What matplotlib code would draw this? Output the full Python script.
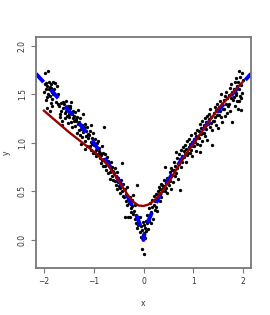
import numpy as np
import matplotlib
matplotlib.use("Agg")
import matplotlib.pyplot as plt

# scatter points (x from -2 to 2)
px = [
    -1.99, -1.97, -1.96, -1.95, -1.94, -1.93, -1.92, -1.91, -1.93, -1.98, -1.96, -1.90,
    -1.89, -1.88, -1.87, -1.86, -1.85, -1.84, -1.83, -1.82, -1.81, -1.88, -1.85, -1.83,
    -1.79, -1.77, -1.76, -1.74, -1.72, -1.71,
    -1.69, -1.68, -1.66, -1.65, -1.64, -1.62, -1.61, -1.67, -1.63,
    -1.59, -1.58, -1.57, -1.55, -1.54, -1.53, -1.52, -1.51, -1.56, -1.50,
    -1.49, -1.48, -1.46, -1.45, -1.44, -1.43, -1.42, -1.41, -1.47, -1.40,
    -1.39, -1.38, -1.37, -1.35, -1.34, -1.33, -1.32, -1.31, -1.36, -1.30,
    -1.29, -1.28, -1.27, -1.26, -1.25, -1.23, -1.22, -1.21, -1.24, -1.20,
    -1.19, -1.18, -1.17, -1.16, -1.15, -1.14, -1.13, -1.12, -1.11, -1.17,
    -1.09, -1.08, -1.07, -1.06, -1.05, -1.04, -1.03, -1.02, -1.01, -1.05,
    -0.99, -0.98, -0.97, -0.96, -0.95, -0.94, -0.93, -0.92, -0.91, -0.90,
    -0.89, -0.88, -0.87, -0.86, -0.85, -0.84, -0.83, -0.82, -0.81, -0.80,
    -0.79, -0.78, -0.77, -0.76, -0.75, -0.74, -0.73, -0.72, -0.71,
    -0.69, -0.68, -0.67, -0.66, -0.65, -0.64, -0.63, -0.62, -0.61,
    -0.59, -0.58, -0.57, -0.56, -0.55, -0.54, -0.53, -0.52, -0.51, -0.50,
    -0.49, -0.48, -0.47, -0.46, -0.45, -0.44, -0.43, -0.42, -0.41,
    -0.39, -0.38, -0.37, -0.36, -0.35, -0.34, -0.33, -0.32, -0.31,
    -0.29, -0.28, -0.27, -0.26, -0.25, -0.24, -0.23, -0.22, -0.21,
    -0.19, -0.18, -0.17, -0.16, -0.15, -0.14, -0.13, -0.12, -0.11,
    -0.09, -0.08, -0.07, -0.06, -0.05, -0.04, -0.03, -0.02, -0.01,
    0.00, 0.01, 0.02, 0.03, 0.04, 0.05, 0.06, 0.07, 0.08, 0.09,
    0.11, 0.12, 0.13, 0.14, 0.15, 0.16, 0.17, 0.18, 0.19,
    0.21, 0.22, 0.23, 0.24, 0.25, 0.26, 0.27, 0.28, 0.29,
    0.31, 0.32, 0.33, 0.34, 0.35, 0.36, 0.37, 0.38, 0.39,
    0.41, 0.42, 0.43, 0.44, 0.45, 0.46, 0.47, 0.48, 0.49,
    0.51, 0.52, 0.53, 0.54, 0.55, 0.56, 0.57, 0.58, 0.59,
    0.61, 0.62, 0.63, 0.64, 0.65, 0.66, 0.67, 0.68, 0.69,
    0.71, 0.72, 0.73, 0.74, 0.75, 0.76, 0.77, 0.78, 0.79,
    0.81, 0.82, 0.83, 0.84, 0.85, 0.86, 0.87, 0.88, 0.89,
    0.91, 0.92, 0.93, 0.94, 0.95, 0.96, 0.97, 0.98, 0.99,
    1.01, 1.02, 1.03, 1.04, 1.05, 1.06, 1.07, 1.08, 1.09,
    1.11, 1.12, 1.13, 1.14, 1.15, 1.16, 1.17, 1.18, 1.19, 1.13,
    1.21, 1.22, 1.23, 1.24, 1.25, 1.26, 1.27, 1.28, 1.29,
    1.31, 1.32, 1.33, 1.34, 1.35, 1.36, 1.37, 1.38, 1.39,
    1.41, 1.42, 1.43, 1.44, 1.45, 1.46, 1.47, 1.48, 1.49,
    1.51, 1.52, 1.53, 1.54, 1.55, 1.56, 1.57, 1.58, 1.59,
    1.61, 1.62, 1.63, 1.64, 1.65, 1.66, 1.67, 1.68, 1.69,
    1.71, 1.72, 1.73, 1.74, 1.75, 1.76, 1.77, 1.78, 1.79,
    1.81, 1.82, 1.83, 1.84, 1.85, 1.86, 1.87, 1.88, 1.89, 1.85,
    1.90, 1.91, 1.92, 1.93, 1.94, 1.95, 1.96, 1.97, 1.98, 1.99, 1.92, 1.96,
]
py = [
    1.52, 1.72, 1.55, 1.61, 1.47, 1.58, 1.74, 1.50, 1.36, 1.60, 1.44, 1.55,
    1.62, 1.48, 1.57, 1.41, 1.60, 1.52, 1.45, 1.63, 1.50, 1.33, 1.56, 1.38,
    1.55, 1.61, 1.42, 1.58, 1.50, 1.40,
    1.38, 1.27, 1.41, 1.33, 1.22, 1.36, 1.42, 1.30, 1.18,
    1.40, 1.31, 1.25, 1.43, 1.35, 1.28, 1.38, 1.20, 1.33, 1.30,
    1.26, 1.36, 1.21, 1.42, 1.30, 1.16, 1.33, 1.25, 1.38, 1.22,
    1.28, 1.17, 1.32, 1.22, 1.10, 1.27, 1.34, 1.19, 1.24, 1.13,
    1.21, 1.08, 1.25, 1.14, 0.99, 1.18, 1.30, 1.11, 1.06, 1.16,
    1.14, 1.02, 1.19, 1.07, 1.12, 0.97, 1.16, 1.05, 1.09, 0.94,
    1.08, 0.97, 1.12, 1.01, 0.93, 1.05, 0.99, 1.10, 0.90, 1.18,
    0.98, 0.90, 1.04, 0.93, 0.86, 1.00, 0.95, 0.88, 1.02, 0.92,
    0.95, 0.84, 0.90, 0.79, 0.87, 0.97, 0.82, 0.89, 0.76, 1.16,
    0.83, 0.76, 0.88, 0.80, 0.72, 0.85, 0.78, 0.69, 0.81,
    0.77, 0.70, 0.63, 0.80, 0.73, 0.66, 0.75, 0.62, 0.71,
    0.69, 0.61, 0.74, 0.57, 0.66, 0.52, 0.70, 0.60, 0.64, 0.56,
    0.60, 0.53, 0.48, 0.62, 0.56, 0.79, 0.50, 0.58, 0.45,
    0.44, 0.24, 0.52, 0.40, 0.47, 0.36, 0.55, 0.42, 0.24,
    0.38, 0.24, 0.44, 0.33, 0.29, 0.41, 0.35, 0.27, 0.46,
    0.30, 0.22, 0.36, 0.18, 0.26, 0.12, 0.57, 0.24, 0.15,
    0.18, 0.24, 0.08, 0.14, 0.03, 0.10, -0.09, 0.19, 0.05,
    -0.14, 0.07, 0.15, 0.02, 0.12, 0.20, 0.09, 0.17, 0.26, 0.11,
    0.20, 0.33, 0.25, 0.38, 0.17, 0.29, 0.34, 0.41, 0.22,
    0.36, 0.45, 0.31, 0.40, 0.47, 0.34, 0.42, 0.30, 0.50,
    0.47, 0.55, 0.40, 0.52, 0.58, 0.44, 0.50, 0.57, 0.53,
    0.56, 0.62, 0.50, 0.75, 0.59, 0.53, 0.64, 0.48, 0.60,
    0.64, 0.57, 0.70, 0.61, 0.74, 0.52, 0.67, 0.72, 0.60,
    0.72, 0.80, 0.66, 0.76, 0.91, 0.69, 0.74, 0.84, 0.63,
    0.78, 0.88, 0.51, 0.83, 0.93, 0.75, 0.86, 0.80, 0.96,
    0.92, 0.85, 0.98, 0.88, 0.80, 0.94, 1.02, 0.87, 0.90,
    0.96, 1.04, 0.90, 0.99, 1.08, 0.93, 1.01, 0.86, 0.97,
    1.04, 0.97, 1.10, 1.01, 0.92, 1.07, 1.13, 0.99, 1.06,
    1.12, 1.05, 1.19, 0.98, 1.09, 1.15, 1.02, 1.22, 1.10, 0.91,
    1.18, 1.10, 1.25, 1.07, 1.21, 1.14, 1.28, 1.03, 1.19,
    1.24, 1.30, 1.16, 1.35, 1.20, 1.27, 1.13, 0.98, 1.22,
    1.31, 1.22, 1.37, 1.26, 1.18, 1.34, 1.29, 1.40, 1.15,
    1.37, 1.29, 1.43, 1.33, 1.50, 1.26, 1.40, 1.21, 1.35,
    1.44, 1.35, 1.48, 1.28, 1.40, 1.52, 1.31, 1.46, 1.38,
    1.49, 1.40, 1.56, 1.33, 1.46, 1.60, 1.21, 1.52, 1.44,
    1.55, 1.47, 1.62, 1.38, 1.51, 1.67, 1.43, 1.58, 1.35, 1.49,
    1.62, 1.74, 1.55, 1.48, 1.68, 1.34, 1.59, 1.72, 1.51, 1.65, 1.43, 1.46,
]

# true curve (blue dashed), read at these x
true_x = [-2.16, -2.0, -1.8, -1.6, -1.4, -1.2, -1.0, -0.8, -0.6, -0.4, -0.3, -0.2, -0.1, -0.05, -0.02, 0.0,
          0.02, 0.05, 0.1, 0.2, 0.3, 0.4, 0.6, 0.8, 1.0, 1.2, 1.4, 1.6, 1.8, 2.0, 2.16]
true_y = [1.71, 1.62, 1.51, 1.39, 1.27, 1.14, 1.00, 0.855, 0.70, 0.53, 0.43, 0.32, 0.20, 0.12, 0.065, 0.0,
          0.065, 0.12, 0.20, 0.32, 0.43, 0.53, 0.70, 0.855, 1.00, 1.14, 1.27, 1.39, 1.51, 1.62, 1.71]

# fitted curve (dark red)
fit_x = [-2.0, -1.75, -1.5, -1.25, -1.0, -0.85, -0.7, -0.55, -0.4, -0.3, -0.2, -0.1, 0.0,
         0.1, 0.2, 0.3, 0.4, 0.55, 0.7, 0.85, 1.0, 1.25, 1.5, 1.75, 2.0]
fit_y = [1.33, 1.22, 1.11, 1.01, 0.91, 0.84, 0.76, 0.65, 0.53, 0.45, 0.39, 0.355, 0.35,
         0.365, 0.40, 0.45, 0.52, 0.63, 0.76, 0.88, 0.99, 1.17, 1.35, 1.49, 1.63]

xticks = [-2, -1, 0, 1, 2]
yticks = [0.0, 0.5, 1.0, 1.5, 2.0]

fig = plt.figure(figsize=(2.7, 3.15), dpi=100)
ax = fig.add_axes([36/270, 47/315, 215/270, 231/315])

ax.plot(px, py, 'o', color='black', markersize=2.4, markeredgewidth=0)
ax.plot(true_x, true_y, color='#0000ff', lw=2.8, dashes=(2.9, 2.7), dash_capstyle='butt')
ax.plot(fit_x, fit_y, color='#990000', lw=1.7)

ax.set_xlim(-2.16, 2.16)
ax.set_ylim(-0.288, 2.088)
ax.set_xticks(xticks)
ax.set_xticklabels(['\u22122', '\u22121', '0', '1', '2'])
ax.set_yticks(yticks)
ax.set_yticklabels(['0.0', '0.5', '1.0', '1.5', '2.0'], rotation=90, va='center')

for s in ax.spines.values():
    s.set_color('#777777')
    s.set_linewidth(1.3)
ax.tick_params(colors='#777777', labelcolor='#333333', labelsize=5.5, length=3.5, width=0.8, pad=3)

ax.set_xlabel('x', fontsize=5.5, color='#333333', labelpad=9)
ax.set_ylabel('y', fontsize=5.5, color='#333333', labelpad=5)

fig.savefig('out.png', dpi=100)
